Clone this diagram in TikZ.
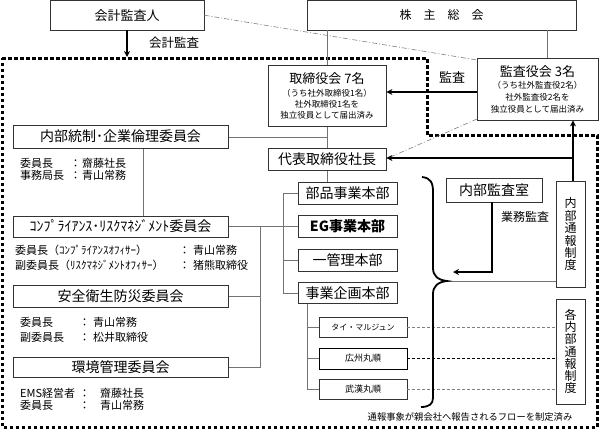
\documentclass[tikz,border=0pt]{standalone}
\usepackage{fontspec}
\setmainfont{Noto Sans CJK JP}
\usetikzlibrary{arrows.meta}
\newcommand\jfs[1]{\fontsize{#1}{#1}\selectfont}
\newcommand\kvl[4]{\makebox[#1][l]{#2}\makebox[#3][l]{：}#4}
\begin{document}
\begin{tikzpicture}[x=1pt,y=-1pt,
  box/.style={draw=black!80, line width=0.8pt, fill=white, inner sep=0pt, align=center},
  conn/.style={draw=black!55, line width=0.9pt},
  arr/.style={draw=black, line width=1.8pt, -{Stealth[length=6pt,width=6pt]}},
  dd/.style={draw=black!50, line width=0.6pt, dash pattern=on 5pt off 2pt on 1pt off 2pt},
  dsh/.style={line width=0.8pt, dash pattern=on 3pt off 2pt},
  txt/.style={inner sep=0pt, anchor=west, font=\jfs{11}},
  ctxt/.style={inner sep=0pt}]
\useasboundingbox (0,0) rectangle (600,431);
% boundary
\draw[line width=3pt, dash pattern=on 3.5pt off 2.5pt] (2,58) -- (427,58) -- (427,135) -- (597,135) -- (597,427) -- (2,427) -- cycle;

% coordinates
\coordinate (vk) at (573,158);
\coordinate (tip) at (447,281);
\coordinate (kansaend) at (453,272);

% boxes
\node[box, minimum width=154pt, minimum height=29.5pt, font=\jfs{13}] (audit) at (127,15.25) {会計監査人};
\node[box, minimum width=269pt, minimum height=29.5pt, font=\jfs{12}] (share) at (441.5,15.25) {株　主　総　会};

% connectors
\draw[dd] (audit.east) -- (477,60);
\draw[dd] (477,119) -- (386,159);
\draw[conn] (327,30) -- (327,148);
\draw[conn] (547,30) -- (547,58);
\draw[conn] (228,137) -- (327,137);
\draw[conn] (143,148) -- (143,216);
\draw[conn] (228,226) -- (298,226);
\draw[conn] (260,226) -- (260,367) -- (228,367);
\draw[conn] (228,296) -- (260,296);
\draw[conn] (327,170) -- (327,182);
\draw[conn] (298,193) -- (283,193) -- (283,293) -- (298,293);
\draw[conn] (283,260) -- (298,260);
\draw[conn] (307,303) -- (307,389) -- (319,389);
\draw[conn] (307,327) -- (319,327);
\draw[conn] (307,358.5) -- (319,358.5);
\draw[conn] (tip) -- (556,281);

\node[box, minimum width=118pt, minimum height=61pt] (board) at (327,95.5) {};
\node[ctxt, font=\jfs{13}] (boardt) at (327,79) {取締役会 7名};
\node[ctxt, font=\jfs{8.5}] (boardl1) at (327,93) {（うち社外取締役1名）};
\node[ctxt, font=\jfs{8.5}] (boardl2) at (327,104) {社外取締役1名を};
\node[ctxt, font=\jfs{8.5}] (boardl3) at (327,115.5) {独立役員として届出済み};

\node[box, minimum width=118pt, minimum height=22pt, font=\jfs{14}] (pres) at (327,159) {代表取締役社長};

\node[box, minimum width=121pt, minimum height=62pt] (kansa) at (537.5,89) {};
\node[ctxt, font=\jfs{13}] (kansat) at (537.5,72) {監査役会 3名};
\node[ctxt, font=\jfs{8.5}] (kansal1) at (537.5,85) {（うち社外監査役2名）};
\node[ctxt, font=\jfs{8.5}] (kansal2) at (537.5,97) {社外監査役2名を};
\node[ctxt, font=\jfs{8.5}] (kansal3) at (537.5,109) {独立役員として届出済み};

\node[box, minimum width=215pt, minimum height=23pt, font=\jfs{14}] (naibu) at (120.5,136.5) {内部統制･企業倫理委員会};
\node[box, minimum width=215pt, minimum height=21pt, font=\jfs{14}] (comp) at (120.5,226.5) {ｺﾝﾌﾟﾗｲｱﾝｽ･ﾘｽｸﾏﾈｼﾞﾒﾝﾄ委員会};
\node[box, minimum width=215pt, minimum height=22pt, font=\jfs{14}] (safety) at (120.5,296) {安全衛生防災委員会};
\node[box, minimum width=215pt, minimum height=20pt, font=\jfs{14}] (env) at (120.5,367) {環境管理委員会};

\node[txt] (n1) at (20,163) {\kvl{50pt}{委員長}{12pt}{齋藤社長}};
\node[txt] (n2) at (20,175.5) {\kvl{50pt}{事務局長}{12pt}{青山常務}};
\node[txt] (c1) at (15,250) {\kvl{164pt}{委員長（ｺﾝﾌﾟﾗｲｱﾝｽｵﾌｨｻｰ）}{14pt}{青山常務}};
\node[txt] (c2) at (15,265) {\kvl{164pt}{副委員長（ﾘｽｸﾏﾈｼﾞﾒﾝﾄｵﾌｨｻｰ）}{14pt}{猪熊取締役}};
\node[txt] (s1) at (20,322) {\kvl{59pt}{委員長}{14pt}{青山常務}};
\node[txt] (s2) at (20,337) {\kvl{59pt}{副委員長}{14pt}{松井取締役}};
\node[txt] (e1) at (20,393) {\kvl{59pt}{EMS経営者}{21pt}{齋藤社長}};
\node[txt] (e2) at (20,405) {\kvl{59pt}{委員長}{21pt}{青山常務}};

\node[box, minimum width=99pt, minimum height=22pt, font=\jfs{14}] (buhin) at (347.5,193) {部品事業本部};
\node[box, minimum width=99pt, minimum height=22pt, font=\jfs{14}\bfseries] (eg) at (347.5,226) {EG事業本部};
\node[box, minimum width=99pt, minimum height=22pt, font=\jfs{14}] (kanri) at (347.5,260) {一管理本部};
\node[box, minimum width=99pt, minimum height=21pt, font=\jfs{14}] (kikaku) at (347.5,293) {事業企画本部};

\node[box, minimum width=88pt, minimum height=20pt, font=\jfs{8}] (thai) at (363,327) {タイ・マルジュン};
\node[box, draw=black, minimum width=88pt, minimum height=21pt, font=\jfs{9}] (koshu) at (363,358.5) {広州丸順};
\node[box, minimum width=88pt, minimum height=20pt, font=\jfs{9}] (bukan) at (363,389) {武漢丸順};

\node[box, minimum width=96pt, minimum height=24pt, font=\jfs{14}] (naikan) at (494,190) {内部監査室};
\node[box, minimum width=29pt, minimum height=106pt, font=\jfs{12}, text width=14pt] (tsuho1) at (570.5,234) {\baselineskip=12.5pt 内\\部\\通\\報\\制\\度};
\node[box, minimum width=29pt, minimum height=105pt, font=\jfs{12}, text width=14pt] (tsuho2) at (570.5,351.5) {\baselineskip=12.2pt 各\\内\\部\\通\\報\\制\\度};

% dashed to tsuho2
\draw[dsh, draw=black!50] (thai.east) -- (thai.east -| tsuho2.west);
\draw[dsh, draw=black] (koshu.east) -- (koshu.east -| tsuho2.west);
\draw[dsh, draw=black!50] (bukan.east) -- (bukan.east -| tsuho2.west);

% brace
\draw[line width=1.8pt] (422,177) .. controls (431,178) and (433,183) .. (433,192) -- (433,268) .. controls (433,276) and (438,280) .. (tip) .. controls (438,282) and (433,286) .. (433,294) -- (433,398) .. controls (433,404) and (429,407) .. (421,407);

% arrows
\draw[arr] (audit.south) -- (127,57);
\node[ctxt, font=\jfs{12.5}] (lab1) at (174,43) {会計監査};
\draw[arr] ([yshift=-3pt]kansa.west) -- ([yshift=-3pt]kansa.west -| board.east);
\node[ctxt, font=\jfs{13}] (lab2) at (452,77) {監査};
\draw[arr] (tsuho1.north -| vk) -- (kansa.south -| vk);
\draw[arr] (vk) -- (vk -| pres.east);
\draw[arr] (naikan.south -| 492,0) |- (kansaend);
\node[ctxt, font=\jfs{12}] (lab3) at (525,217) {業務監査};
\node[ctxt, font=\jfs{9.3}] (lab4) at (470,417) {通報事象が親会社へ報告されるフローを制定済み};
\end{tikzpicture}
\end{document}
